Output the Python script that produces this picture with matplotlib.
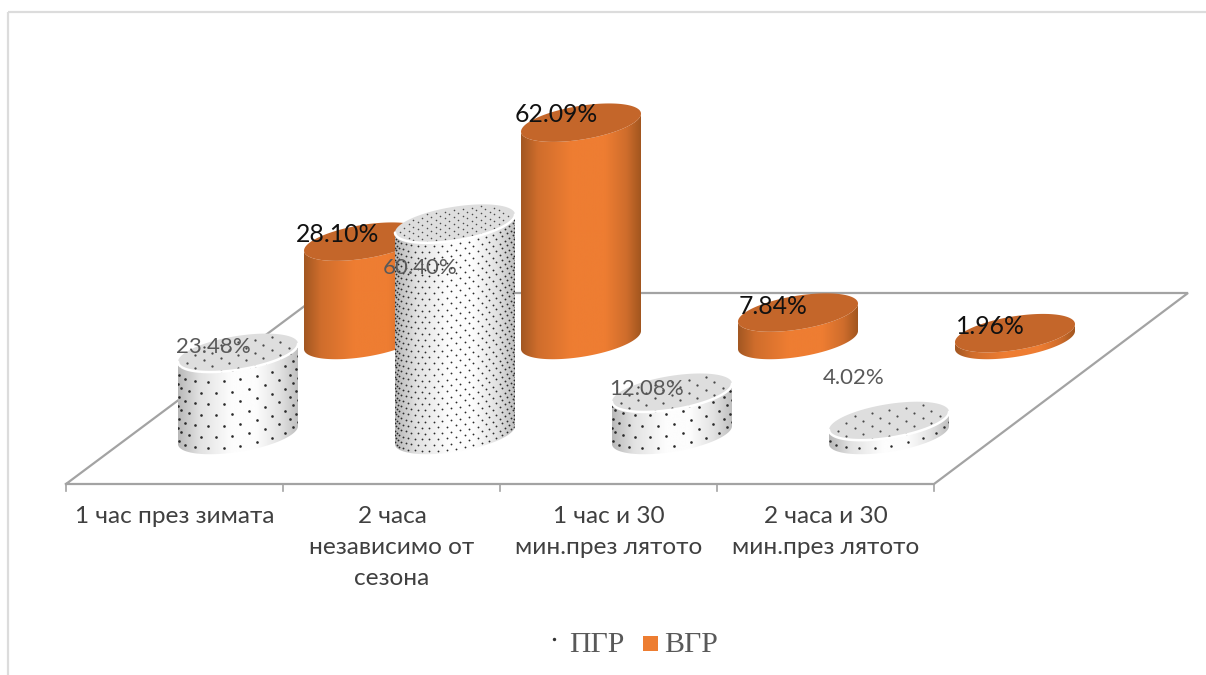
#!/usr/bin/env python3

import matplotlib
matplotlib.use("Agg")
import matplotlib.pyplot as plt
from matplotlib.colors import LinearSegmentedColormap
from matplotlib.patches import Polygon, Rectangle
import numpy as np

categories = ["1 час през зимата",
              "2 часа\nнезависимо от\nсезона",
              "1 час и 30\nмин.през лятото",
              "2 часа и 30\nмин.през лятото"]
pgr_values = [23.48, 60.40, 12.08, 4.02]
vgr_values = [28.10, 62.09, 7.84, 1.96]
pgr_label_pos = [(213, 347), (420, 268), (647, 389), (854, 378)]
vgr_label_pos = [(338, 234), (556, 114), (773, 306), (990, 326)]

W, H = 1206, 675
PX_PER_PCT = 3.5
RX, SHEAR, RY = 60, 9, 17
FRONT_Y, BACK_Y = 435, 340
SLOT = 217

ORANGE_TOP = "#c4662a"
PGR_TOP = "#dedede"
LINE = "#a3a3a3"

pgr_shade = LinearSegmentedColormap.from_list(
    "pgr", [(0, "#b8b8b8"), (0.18, "#e2e2e2"), (0.45, "#fdfdfd"),
            (0.65, "#fdfdfd"), (0.85, "#e2e2e2"), (1, "#c0c0c0")])
vgr_shade = LinearSegmentedColormap.from_list(
    "vgr", [(0, "#a25722"), (0.14, "#cf6d2c"), (0.42, "#ee7d32"),
            (0.7, "#ee7d32"), (0.88, "#cf6d2c"), (1, "#a2561f")])


def ellipse_pts(cx, cy, t):
    return np.column_stack([cx + RX*np.cos(t),
                            cy - SHEAR*np.cos(t) + RY*np.sin(t)])


def side_dots(ax, cx, base, height, spacing, size):
    # staggered rows wrapped round the front half of the cylinder
    dt = spacing/RX
    row = 0
    z = spacing*0.35
    xs, ys = [], []
    while z < height + RY:
        t = np.arange(dt*0.4 + (row % 2)*dt/2, np.pi, dt)
        pts = ellipse_pts(cx, base - z, t)
        xs.extend(pts[:, 0])
        ys.extend(pts[:, 1])
        z += spacing*0.65
        row += 1
    return ax.scatter(xs, ys, s=size, color="#2a2a2a", linewidths=0, zorder=ax.zcur + 0.2)


def top_dots(ax, cx, cy, spacing, size):
    du = spacing/RX
    dv = spacing*0.38/RY
    xs, ys = [], []
    for i, v in enumerate(np.arange(-1, 1, dv)):
        for u in np.arange(-1 + (i % 2)*du/2, 1, du):
            if u*u + v*v < 0.92:
                xs.append(cx + RX*u)
                ys.append(cy - SHEAR*u + RY*v)
    ax.scatter(xs, ys, s=size, color="#4a4a4a", linewidths=0, zorder=ax.zcur + 0.4)


def cylinder(ax, cx, base, value, cmap, top_color, spacing=None, size=3.0):
    height = value*PX_PER_PCT
    top = base - height
    front = np.linspace(0, np.pi, 80)
    back = np.linspace(np.pi, 2*np.pi, 80)

    outline = np.vstack([ellipse_pts(cx, base, front),
                         ellipse_pts(cx, top, front[::-1])])
    clip = Polygon(outline, closed=True, facecolor="none", edgecolor="none",
                   zorder=ax.zcur)
    ax.add_patch(clip)
    grad = np.linspace(0, 1, 256).reshape(1, -1)
    img = ax.imshow(grad, cmap=cmap, aspect="auto", zorder=ax.zcur,
                    extent=(cx - RX, cx + RX, base + RY + SHEAR, top - RY - SHEAR))
    img.set_clip_path(clip)

    if spacing is not None:
        dots = side_dots(ax, cx, base, height, spacing, size)
        dots.set_clip_path(clip)

    disc = ellipse_pts(cx, top, np.concatenate([front, back]))
    ax.add_patch(Polygon(disc, closed=True, facecolor=top_color, edgecolor="none",
                         zorder=ax.zcur + 0.3))
    if spacing is not None:
        top_dots(ax, cx, top, spacing, size*0.75)
        rim = ellipse_pts(cx, top, front)
        ax.plot(rim[:, 0], rim[:, 1], color="white", lw=1.8, zorder=ax.zcur + 0.5,
                solid_capstyle="round")
    ax.zcur += 1


fig = plt.figure(figsize=(W/100, H/100), dpi=100)
ax = fig.add_axes([0, 0, 1, 1])
ax.zcur = 5

# outer chart border
ax.add_patch(Rectangle((8, 12), W + 20, H + 20, fill=False, edgecolor="#dcdcdc", lw=1.6))

# floor of the 3D plot
floor_x = [66, 934, 1188, 322, 66]
floor_y = [484, 484, 293, 293, 484]
ax.plot(floor_x, floor_y, color=LINE, lw=1.6, zorder=2, solid_joinstyle="miter")
for i in range(len(categories) + 1):
    tx = 66 + i*SLOT
    ax.plot([tx, tx], [484, 491], color=LINE, lw=1.2, zorder=2)

# back row first so that the front row covers it
for i, v in enumerate(vgr_values):
    cylinder(ax, 364 + i*SLOT, BACK_Y, v, vgr_shade, ORANGE_TOP)

pgr_spacing = [17, 9, 17, 17]
pgr_sizes = [3.6, 1.7, 3.6, 3.2]
for i, v in enumerate(pgr_values):
    cylinder(ax, 238 + i*SLOT, FRONT_Y, v, pgr_shade, PGR_TOP,
             spacing=pgr_spacing[i], size=pgr_sizes[i])

for v, (x, y) in zip(pgr_values, pgr_label_pos):
    ax.text(x, y, "{:.2f}%".format(v), ha="center", va="center", family="Lato",
            fontsize=16, color="#595959", zorder=50)
for v, (x, y) in zip(vgr_values, vgr_label_pos):
    ax.text(x, y, "{:.2f}%".format(v), ha="center", va="center", family="Lato",
            fontsize=17.8, color="#111111", zorder=50)

for i, c in enumerate(categories):
    ax.text(175 + i*SLOT, 506, c, ha="center", va="top", family="Lato", fontsize=17.6,
            color="#404040", linespacing=1.6, zorder=50)

# legend
ax.scatter([554], [639], s=6, color="#333333", linewidths=0, zorder=50)
ax.text(569, 645, "ПГР", ha="left", va="center", family="Liberation Serif", fontsize=21.5,
        color="#595959", zorder=50)
ax.add_patch(Rectangle((643, 636), 15, 15, facecolor="#ed7d31", edgecolor="none", zorder=50))
ax.text(664, 645, "ВГР", ha="left", va="center", family="Liberation Serif", fontsize=21.5,
        color="#595959", zorder=50)

ax.set_xlim(0, W)
ax.set_ylim(H, 0)
ax.axis("off")
fig.savefig("out.png", dpi=100, facecolor="white")
